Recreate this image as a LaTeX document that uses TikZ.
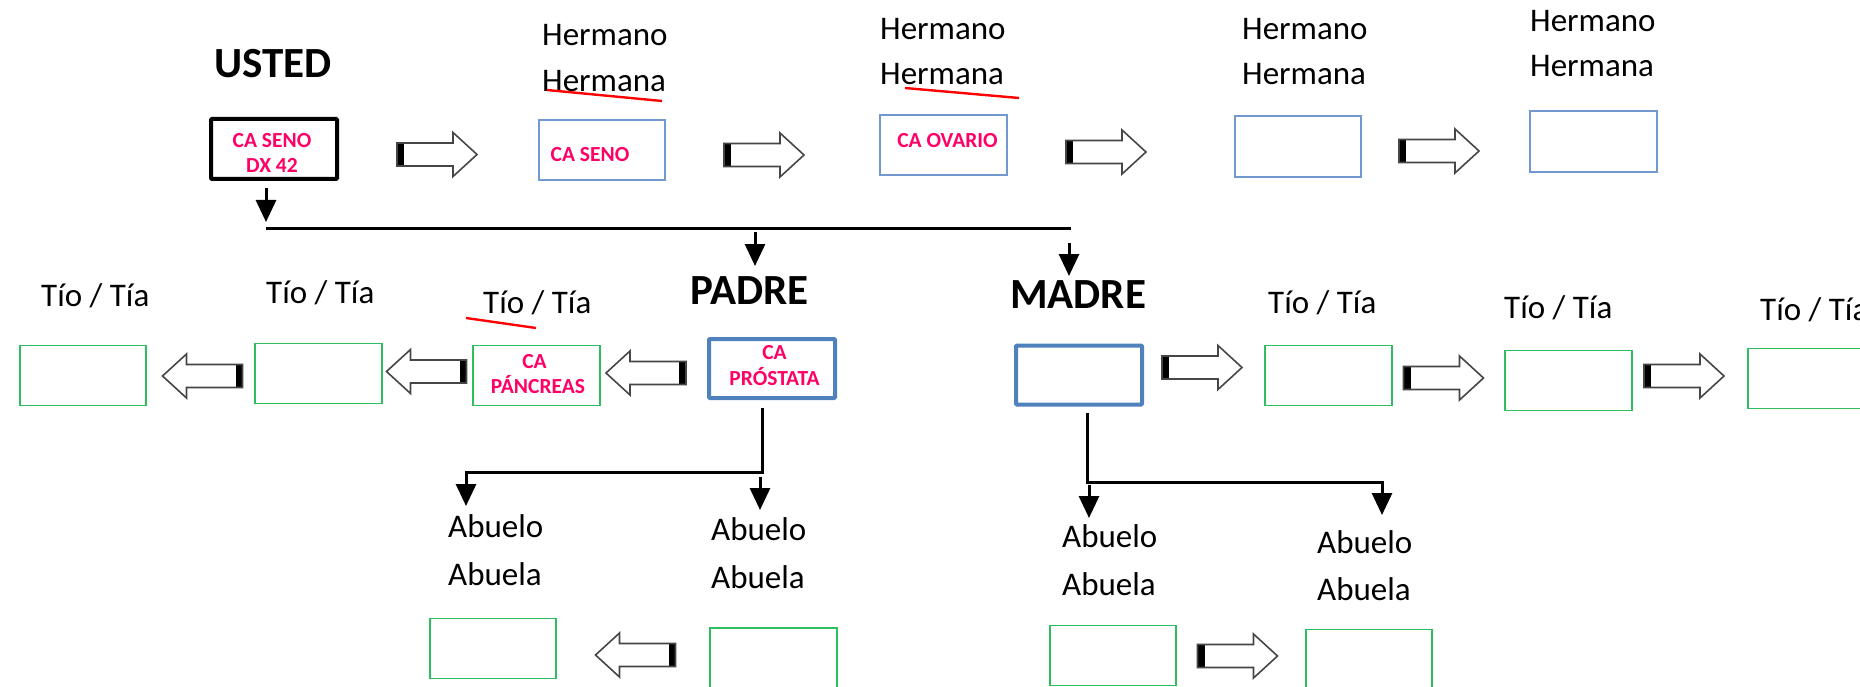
\documentclass[tikz,border=0pt]{standalone}
\usepackage{fontspec}
\setmainfont{Carlito}
\usetikzlibrary{arrows.meta}
\definecolor{capink}{RGB}{255,0,102}
\definecolor{boxblue}{RGB}{114,152,208}
\definecolor{strongblue}{RGB}{79,129,189}
\definecolor{boxgreen}{RGB}{46,190,96}
\definecolor{arrowgray}{RGB}{70,70,70}
\tikzset{
  lbl/.style={font=\fontsize{33}{40}\selectfont, inner sep=0pt, anchor=base west},
  big/.style={font=\bfseries\fontsize{43}{52}\selectfont, inner sep=0pt, anchor=base west},
  pinktxt/.style={font=\bfseries\fontsize{21.5}{26}\selectfont, text=capink, inner sep=0pt, anchor=base},
  thinblue/.style={draw=boxblue, line width=1.6pt, minimum width=126.5pt, minimum height=60.5pt, inner sep=0pt},
  greenbox/.style={draw=boxgreen, line width=1.8pt, minimum width=126.5pt, minimum height=60pt, inner sep=0pt},
  blackbox/.style={draw=black, line width=4pt, minimum width=126pt, minimum height=60pt, inner sep=0pt, rounded corners=1pt},
  strongbox/.style={draw=strongblue, line width=4pt, minimum width=126pt, minimum height=59pt, inner sep=0pt, rounded corners=1pt},
  bus/.style={line width=3pt},
  varrow/.style={line width=3pt, -{Triangle[width=20pt,length=22pt]}},
  redline/.style={draw=red, line width=2.4pt},
  blockarrow/.pic={
    \fill[black] (-40,-11.5) rectangle (-33,11.5);
    \draw[draw=arrowgray, line width=1.6pt, line join=miter]
      (-40,-11.5) -- (16,-11.5) -- (16,-22) -- (40,0) -- (16,22) -- (16,11.5) -- (-40,11.5) -- cycle;
  }
}
\begin{document}
\begin{tikzpicture}[x=1pt,y=-1pt]
\useasboundingbox (0,0) rectangle (1860,687);
\clip (0,0) rectangle (1860,687);
\fill[white] (0,0) rectangle (1860,687);

% ---------- top row: USTED and siblings ----------
\node[big] (tusted) at (214,78) {USTED};
\node[blackbox] (usted) at (274,149) {};
\node[pinktxt] (us1) at (272,148) {CA SENO};
\node[pinktxt] (us2) at (272,173) {DX 42};

\node[lbl] (h1a) at (542,46) {Hermano};
\node[lbl] (h1b) at (542,92) {Hermana};
\node[thinblue] (hbox1) at (602,150) {};
\node[pinktxt] (hb1t) at (590,162) {CA SENO};

\node[lbl] (h2a) at (880,40) {Hermano};
\node[lbl] (h2b) at (880,85) {Hermana};
\node[thinblue] (hbox2) at (943.5,145) {};
\node[pinktxt] (hb2t) at (947.5,148) {CA OVARIO};

\node[lbl] (h3a) at (1242,40) {Hermano};
\node[lbl] (h3b) at (1242,85) {Hermana};
\node[thinblue] (hbox3) at (1298,146.5) {};

\node[lbl] (h4a) at (1530,32) {Hermano};
\node[lbl] (h4b) at (1530,77) {Hermana};
\node[thinblue] (hbox4) at (1593.5,141.5) {};

\draw[redline] (547,90) -- (662,101);
\draw[redline] (905,88) -- (1019,98);

\pic at (437,154.5) {blockarrow};
\pic at (764,155) {blockarrow};
\pic at (1106,152) {blockarrow};
\pic at (1439,151) {blockarrow};

% ---------- connectors to parents ----------
\coordinate (ustedA) at (266,188);
\coordinate (ustedB) at (266,222);
\coordinate (busL) at (266,228);
\coordinate (busR) at (1071,228);
\coordinate (padA) at (755,232);
\coordinate (padB) at (755,266);
\coordinate (madA) at (1069,243);
\coordinate (madB) at (1069,276);
\draw[varrow] (ustedA) -- (ustedB);
\draw[bus] (busL) -- (busR);
\draw[varrow] (padA) -- (padB);
\draw[varrow] (madA) -- (madB);

% ---------- parents ----------
\node[big] (tpadre) at (690,304) {PADRE};
\node[strongbox] (padre) at (772,368.5) {};
\node[pinktxt] (pd1) at (774.5,359) {CA};
\node[pinktxt] (pd2) at (774.5,385) {PRÓSTATA};

\node[big] (tmadre) at (1010,308) {MADRE};
\node[strongbox] (madre) at (1079,375) {};

% ---------- uncles/aunts, father side ----------
\node[lbl] (tl1t) at (41,306) {Tío / Tía};
\node[lbl] (tl2t) at (266,303) {Tío / Tía};
\node[lbl] (tl3t) at (483,313) {Tío / Tía};
\draw[redline] (466,318) -- (536,328);
\node[greenbox] (tl1) at (83,375.5) {};
\node[greenbox] (tl2) at (318.5,373.5) {};
\node[greenbox] (tl3) at (536.5,375.5) {};
\node[pinktxt] (tl3a) at (534.5,368) {CA};
\node[pinktxt] (tl3b) at (538,393) {PÁNCREAS};
\pic[rotate=180] at (646,373) {blockarrow};
\pic[rotate=180] at (426.5,371.5) {blockarrow};
\pic[rotate=180] at (202.5,376) {blockarrow};

% ---------- uncles/aunts, mother side ----------
\node[lbl] (tr1t) at (1268,313) {Tío / Tía};
\node[lbl] (tr2t) at (1504,318) {Tío / Tía};
\node[lbl] (tr3t) at (1760,320) {Tío / Tía};
\node[greenbox] (tr1) at (1328.5,375.5) {};
\node[greenbox] (tr2) at (1568.5,380.5) {};
\node[greenbox] (tr3) at (1811.5,378.5) {};
\pic at (1202,367.5) {blockarrow};
\pic at (1443.5,378) {blockarrow};
\pic at (1684,376) {blockarrow};

% ---------- grandparents connectors ----------
\coordinate (pstem) at (762,408);
\coordinate (pj) at (762,472);
\coordinate (pl) at (466,472);
\coordinate (plend) at (466,506);
\coordinate (prA) at (760,477);
\coordinate (prB) at (760,510);
\draw[varrow, line join=miter] (pstem) -- (pj) -- (pl) -- (plend);
\draw[varrow] (prA) -- (prB);

\coordinate (mstem) at (1087,413);
\coordinate (mj) at (1087,482);
\coordinate (mr) at (1382,482);
\coordinate (mrend) at (1382,515);
\coordinate (mlA) at (1089,485);
\coordinate (mlB) at (1089,518);
\draw[varrow, line join=miter] (mstem) -- (mj) -- (mr) -- (mrend);
\draw[varrow] (mlA) -- (mlB);

% ---------- grandparents ----------
\node[lbl] (g1a) at (448,537) {Abuelo};
\node[lbl] (g1b) at (448,585) {Abuela};
\node[lbl] (g2a) at (711,540) {Abuelo};
\node[lbl] (g2b) at (711,588) {Abuela};
\node[lbl] (g3a) at (1062,547) {Abuelo};
\node[lbl] (g3b) at (1062,595) {Abuela};
\node[lbl] (g4a) at (1317,553) {Abuelo};
\node[lbl] (g4b) at (1317,600) {Abuela};

\node[greenbox] (ab1) at (493,648.5) {};
\node[greenbox] (ab2) at (773.5,658) {};
\node[greenbox] (ab3) at (1113,655.5) {};
\node[greenbox] (ab4) at (1369,659.5) {};
\pic[rotate=180] at (635.5,655) {blockarrow};
\pic at (1237.5,656) {blockarrow};
\end{tikzpicture}
\end{document}
